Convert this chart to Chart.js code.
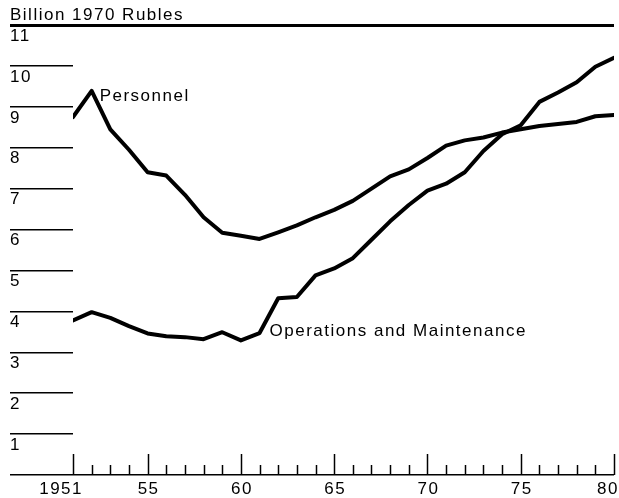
<!DOCTYPE html>
<html><head><meta charset="utf-8">
<script src="https://cdn.jsdelivr.net/npm/chart.js@4"></script>
<style>html,body{margin:0;padding:0;background:#fff;overflow:hidden;}canvas{display:block;}</style>
</head><body>
<canvas id="c" width="619" height="498"></canvas>
<script>
const years = [1951,1952,1953,1954,1955,1956,1957,1958,1959,1960,1961,1962,1963,1964,1965,1966,1967,1968,1969,1970,1971,1972,1973,1974,1975,1976,1977,1978,1979,1980];
const personnel = [8.75,9.39,8.45,7.95,7.4,7.32,6.85,6.3,5.92,5.85,5.77,5.93,6.1,6.3,6.48,6.7,7.0,7.3,7.47,7.75,8.05,8.18,8.25,8.37,8.45,8.53,8.58,8.63,8.77,8.8];
const operations = [3.78,3.98,3.84,3.64,3.46,3.39,3.37,3.32,3.49,3.29,3.47,4.32,4.35,4.88,5.05,5.3,5.75,6.2,6.6,6.95,7.12,7.4,7.92,8.33,8.55,9.12,9.35,9.6,9.98,10.2];
const yTickValues = [0,1,2,3,4,5,6,7,8,9,10,11];
const xLabelYears = [1951,1955,1960,1965,1970,1975,1980];
const xLabelTexts = ['1951','55','60','65','70','75','80'];
const unitTitle = 'Billion 1970 Rubles';
const seriesNames = ['Personnel','Operations and Maintenance'];

const FONT = '17px "Liberation Sans", Arial, sans-serif';
const SPACING = '1.5px';

const decor = {
  id: 'decor',
  beforeLayout(chart){ chart.ctx.letterSpacing = SPACING; },
  beforeDraw(chart){ chart.ctx.letterSpacing = SPACING; },
  afterDraw(chart){
    const ctx = chart.ctx, xs = chart.scales.x, ys = chart.scales.y;
    const base = ys.getPixelForValue(0);
    ctx.save();
    ctx.letterSpacing = SPACING;
    ctx.strokeStyle = '#000';
    ctx.lineWidth = 1.5;
    years.forEach(yr => {
      const x = Math.round(xs.getPixelForValue(yr)) + 0.5;
      const major = xLabelYears.includes(yr);
      ctx.beginPath();
      ctx.moveTo(x, base);
      ctx.lineTo(x, base - (major ? 21 : 10));
      ctx.stroke();
    });
    ctx.fillStyle = '#000';
    ctx.font = FONT;
    ctx.textBaseline = 'alphabetic';
    xLabelYears.forEach((yr, i) => {
      const x = xs.getPixelForValue(yr);
      if (i === 0) { ctx.textAlign = 'right'; ctx.fillText(xLabelTexts[i], x + 10, base + 19); }
      else if (i === xLabelYears.length - 1) { ctx.textAlign = 'right'; ctx.fillText(xLabelTexts[i], x + 5, base + 19); }
      else { ctx.textAlign = 'center'; ctx.fillText(xLabelTexts[i], x + 1, base + 19); }
    });
    ctx.textAlign = 'left';
    ctx.fillText(unitTitle, 10, ys.getPixelForValue(11) - 5);
    ctx.fillText(seriesNames[0], xs.getPixelForValue(years[1]) + 8, ys.getPixelForValue(personnel[1]) + 10);
    ctx.fillText(seriesNames[1], xs.getPixelForValue(years[10]) + 10, ys.getPixelForValue(operations[10]) + 3);
    ctx.restore();
  }
};

const toPts = arr => years.map((yr, i) => ({x: yr, y: arr[i]}));

new Chart(document.getElementById('c'), {
  type: 'line',
  data: {
    datasets: [
      {label: seriesNames[0], data: toPts(personnel), borderColor: '#000', backgroundColor: '#000'},
      {label: seriesNames[1], data: toPts(operations), borderColor: '#000', backgroundColor: '#000'}
    ]
  },
  options: {
    responsive: false,
    animation: false,
    devicePixelRatio: 1,
    layout: {padding: {left: 10, right: 5, top: 25, bottom: 15}},
    plugins: {legend: {display: false}, tooltip: {enabled: false}, title: {display: false}},
    elements: {
      point: {radius: 0, hoverRadius: 0},
      line: {borderWidth: 4, tension: 0, borderJoinStyle: 'round', borderCapStyle: 'round', fill: false}
    },
    scales: {
      x: {
        type: 'linear', min: 1951, max: 1980,
        grid: {display: false}, border: {display: false}, ticks: {display: false}
      },
      y: {
        type: 'linear', min: 0, max: 11,
        afterBuildTicks: s => { s.ticks = yTickValues.map(v => ({value: v})); },
        afterFit: s => { s.width = 63; },
        border: {display: false},
        grid: {
          drawOnChartArea: true,
          drawTicks: true,
          tickLength: 63,
          color: c => (c.tick && (c.tick.value === 11 || c.tick.value === 0)) ? '#000' : 'rgba(0,0,0,0)',
          lineWidth: c => (c.tick && c.tick.value === 11) ? 3 : 1.5,
          tickColor: '#000',
          tickWidth: c => (c.tick && c.tick.value === 11) ? 3 : 1.5
        },
        ticks: {
          crossAlign: 'far',
          labelOffset: 11,
          padding: 0,
          color: '#000',
          font: {family: '"Liberation Sans", Arial, sans-serif', size: 17},
          callback: v => v === 0 ? '' : String(v)
        }
      }
    }
  },
  plugins: [decor]
});
</script>
</body></html>
